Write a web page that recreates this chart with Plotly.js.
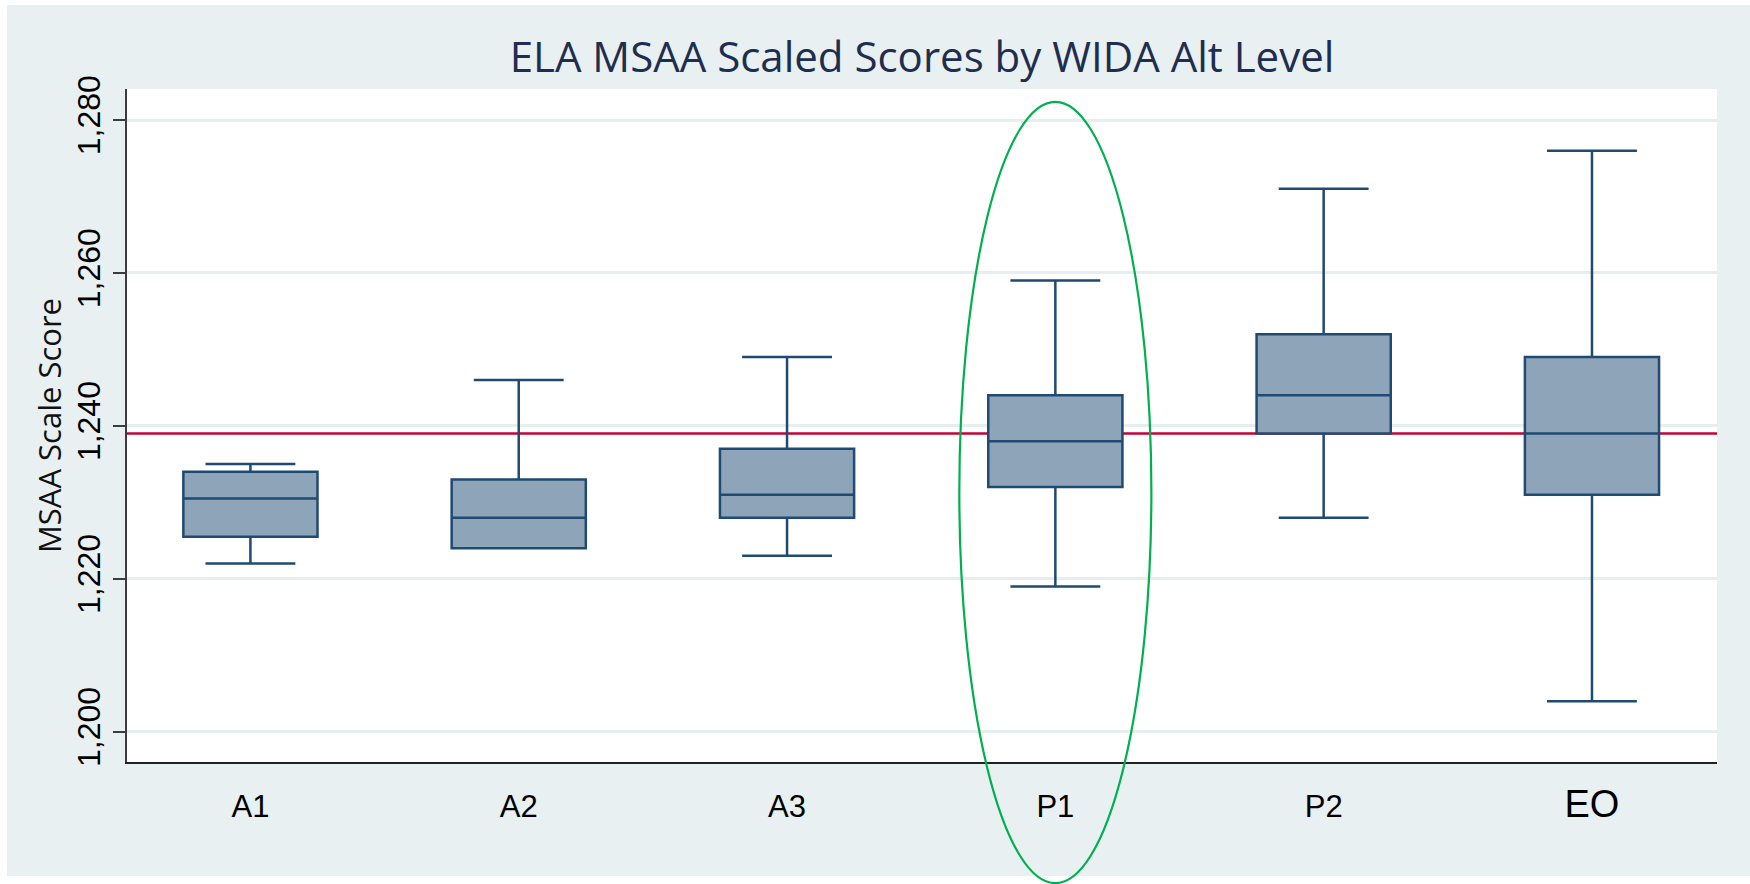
<!DOCTYPE html>
<html>
<head>
<meta charset="utf-8">
<script src="https://cdn.plot.ly/plotly-3.0.1.min.js"></script>
<style>
html, body { margin: 0; padding: 0; background: #ffffff; width: 1750px; height: 884px; overflow: hidden; }
#chart { position: absolute; left: 7px; top: 5px; width: 1743px; height: 871px; }
#chart .svg-container, #chart .main-svg { overflow: visible !important; }
</style>
</head>
<body>
<div id="chart"></div>
<script>
// ---- data ----
const categories = ['A1', 'A2', 'A3', 'P1', 'P2', 'EO'];
const lowerWhisker = [1222, 1224, 1223, 1219, 1228, 1204];
const q1Values = [1225.5, 1224, 1228, 1232, 1239, 1231];
const medianValues = [1230.5, 1228, 1231, 1238, 1244, 1239];
const q3Values = [1234, 1233, 1237, 1244, 1252, 1249];
const upperWhisker = [1235, 1246, 1249, 1259, 1271, 1276];
const referenceScore = 1239;
const highlightedCategory = 'P1';
const yTickValues = [1200, 1220, 1240, 1260, 1280];
const yTickLabels = ['1,200', '1,220', '1,240', '1,260', '1,280'];

// ---- styling ----
const xRange = [-0.46, 5.466];
const yRange = [1196.04, 1284.06];
const bgColor = '#e8f0f2';
const boxLine = '#1f4a72';
const boxFill = '#8ea4b8';

const hiIdx = categories.indexOf(highlightedCategory);
const hiCenter = (hiIdx - xRange[0]) / (xRange[1] - xRange[0]);
const ellipseHalfWidth = 0.0604;

// the last category label is drawn larger in the reference
const xTickText = categories.map((c, i) =>
  i === categories.length - 1 ? '<span style="font-size:38px">' + c + '</span>' : c);

const trace = {
  type: 'box',
  x: categories,
  q1: q1Values,
  median: medianValues,
  q3: q3Values,
  lowerfence: lowerWhisker,
  upperfence: upperWhisker,
  boxpoints: false,
  fillcolor: boxFill,
  line: { color: boxLine, width: 2.5 },
  width: 0.5,
  whiskerwidth: 0.67,
  hoverinfo: 'skip',
  showlegend: false
};

const layout = {
  width: 1743,
  height: 871,
  margin: { l: 120, r: 33, t: 84, b: 114, pad: 0 },
  paper_bgcolor: bgColor,
  plot_bgcolor: '#ffffff',
  showlegend: false,
  title: {
    text: 'ELA MSAA Scaled Scores by WIDA Alt Level',
    font: { family: 'Open Sans', size: 42, color: '#1f2d4f' },
    x: 0.5, xref: 'paper', xanchor: 'center',
    y: 0.94, yref: 'container', yanchor: 'middle'
  },
  xaxis: {
    type: 'category',
    range: xRange,
    showgrid: false,
    zeroline: false,
    showline: true,
    linecolor: '#222222',
    linewidth: 2,
    ticks: '',
    tickvals: categories,
    ticktext: xTickText,
    tickfont: { family: 'Liberation Sans', size: 31, color: '#000000' },
    ticklabelstandoff: 16
  },
  yaxis: {
    range: yRange,
    tickvals: yTickValues,
    ticktext: yTickLabels,
    tickangle: -90,
    ticks: 'outside',
    ticklen: 12,
    tickwidth: 2,
    tickcolor: '#3c3c3c',
    showline: true,
    linecolor: '#3c3c3c',
    linewidth: 2,
    showgrid: true,
    gridcolor: '#e6eef0',
    gridwidth: 3,
    zeroline: false,
    tickfont: { family: 'Liberation Sans', size: 32, color: '#000000' },
    ticklabelstandoff: 0,
    title: {
      text: 'MSAA Scale Score',
      font: { family: 'Open Sans', size: 31, color: '#111111' },
      standoff: 0
    }
  },
  shapes: [
    {
      type: 'line',
      xref: 'x domain', x0: 0, x1: 1,
      yref: 'y', y0: referenceScore, y1: referenceScore,
      line: { color: '#c40233', width: 2.5 },
      layer: 'below'
    },
    {
      type: 'circle',
      xref: 'x domain', x0: hiCenter - ellipseHalfWidth, x1: hiCenter + ellipseHalfWidth,
      yref: 'y domain', y0: -0.18, y1: 0.981,
      line: { color: '#00b04f', width: 2.2 },
      fillcolor: 'rgba(0,0,0,0)',
      layer: 'above'
    }
  ]
};

Plotly.newPlot('chart', [trace], layout, { displayModeBar: false, staticPlot: true });
</script>
</body>
</html>
